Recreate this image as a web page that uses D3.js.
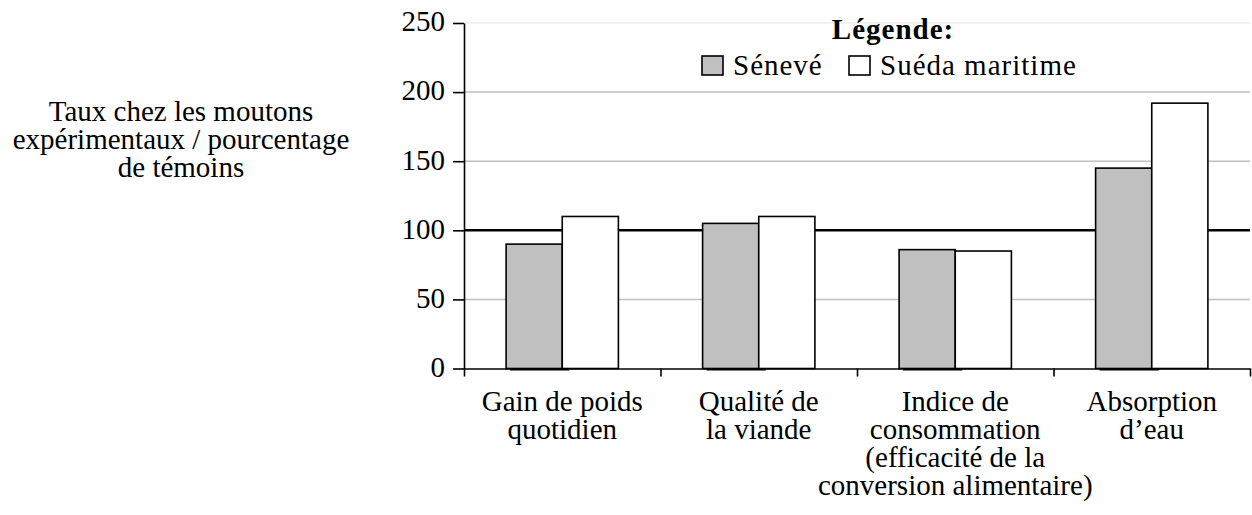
<!DOCTYPE html>
<html>
<head>
<meta charset="utf-8">
<script src="https://cdn.jsdelivr.net/npm/d3@7"></script>
<style>
  body { margin: 0; background: #fff; }
  svg { display: block; font-family: "Liberation Serif", "Times New Roman", serif; }
</style>
</head>
<body>
<script>
// categories (multi-line labels) and the two series, % of control
var categories = ["Gain de poids quotidien", "Qualité de la viande",
                  "Indice de consommation (efficacité de la conversion alimentaire)",
                  "Absorption d’eau"];
var catLines = [["Gain de poids", "quotidien"],
                ["Qualité de", "la viande"],
                ["Indice de", "consommation", "(efficacité de la", "conversion alimentaire)"],
                ["Absorption", "d’eau"]];
var series = ["Sénevé", "Suéda maritime"];
var seneve = [90, 105, 86, 145];
var sueda = [110, 110, 85, 192];
var yTicks = [0, 50, 100, 150, 200, 250];
var titleLines = ["Taux chez les moutons", "expérimentaux / pourcentage", "de témoins"];

var W = 1252, H = 515;
var plotLeft = 464, plotRight = 1250, plotTop = 23, plotBottom = 368.5;

var svg = d3.select("body").append("svg")
    .attr("width", W)
    .attr("height", H);

var y = d3.scaleLinear().domain([0, 250]).range([plotBottom, plotTop]);
var x = d3.scaleBand().domain(categories).range([plotLeft, plotRight]).paddingInner(0).paddingOuter(0);
var xSub = d3.scaleBand().domain(series).range([0, x.bandwidth()]).paddingInner(0).paddingOuter(0.75);
var fills = ["#c0c0c0", "#ffffff"];

// gridlines (drawn under the bars)
svg.append("g").selectAll("line")
    .data(yTicks.filter(function(d) { return d > 0; }))
    .enter().append("line")
    .attr("x1", plotLeft).attr("x2", plotRight)
    .attr("y1", function(d) { return y(d); })
    .attr("y2", function(d) { return y(d); })
    .style("stroke", function(d) {
        if (d == 100) return "#000";
        if (d == 250) return "#eeeeee";
        return "#c0c0c0";
    })
    .style("stroke-width", function(d) { return d == 100 ? 2.5 : 1.5; });

// bars
var rows = categories.map(function(c, i) {
    return [{cat: c, s: series[0], v: seneve[i]}, {cat: c, s: series[1], v: sueda[i]}];
});
var groups = svg.append("g").selectAll("g")
    .data(rows)
    .enter().append("g")
    .attr("transform", function(d) { return "translate(" + x(d[0].cat) + ",0)"; });

groups.selectAll("rect")
    .data(function(d) { return d; })
    .enter().append("rect")
    .attr("x", function(d) { return xSub(d.s); })
    .attr("width", xSub.bandwidth())
    .attr("y", function(d) { return y(d.v); })
    .attr("height", function(d) { return y(0) - y(d.v); })
    .style("fill", function(d, i) { return fills[i]; })
    .style("stroke", "#000")
    .style("stroke-width", 1.6);

// small dark foot under the grey bars
groups.append("line")
    .attr("x1", function(d) { return xSub(d[0].s) + 4; })
    .attr("x2", function(d) { return xSub(d[0].s) + xSub.bandwidth() + 7; })
    .attr("y1", y(0) + 1).attr("y2", y(0) + 1)
    .style("stroke", "#000")
    .style("stroke-width", 2);

// y axis
var yAxis = svg.append("g")
    .attr("transform", "translate(" + plotLeft + ",0)")
    .call(d3.axisLeft(y).tickValues(yTicks).tickSize(11).tickSizeOuter(0).tickPadding(8));
yAxis.select(".domain").style("stroke", "#000").style("stroke-width", 1.6);
yAxis.selectAll(".tick line").style("stroke", "#000").style("stroke-width", 1.6);
yAxis.selectAll(".tick text")
    .attr("dy", "0.27em")
    .style("font-family", "Liberation Serif")
    .style("font-size", "29px")
    .style("fill", "#000");

// x axis: ticks at category boundaries
var xEdge = d3.scaleLinear().domain([0, categories.length]).range([plotLeft, plotRight]);
var xAxis = svg.append("g")
    .attr("transform", "translate(0," + plotBottom + ")")
    .call(d3.axisBottom(xEdge).tickValues(d3.range(categories.length + 1))
        .tickSize(8).tickSizeOuter(0).tickFormat(""));
xAxis.select(".domain").style("stroke", "#000").style("stroke-width", 1.6);
xAxis.selectAll(".tick line").style("stroke", "#000").style("stroke-width", 1.6);

// category labels
var catText = svg.append("g").selectAll("text")
    .data(categories)
    .enter().append("text")
    .attr("x", function(d) { return x(d) + x.bandwidth() / 2; })
    .attr("y", 411)
    .attr("text-anchor", "middle")
    .style("font-size", "29px")
    .style("fill", "#000");
catText.selectAll("tspan")
    .data(function(d, i) { return catLines[i]; })
    .enter().append("tspan")
    .attr("x", function() { return d3.select(this.parentNode).attr("x"); })
    .attr("dy", function(d, i) { return i == 0 ? 0 : 28; })
    .text(function(d) { return d; });

// y title
svg.append("text")
    .attr("x", 181).attr("y", 121)
    .attr("text-anchor", "middle")
    .style("font-size", "29px")
    .style("fill", "#000")
    .selectAll("tspan")
    .data(titleLines)
    .enter().append("tspan")
    .attr("x", 181)
    .attr("dy", function(d, i) { return i == 0 ? 0 : 28; })
    .text(function(d) { return d; });

// legend
svg.append("text")
    .attr("x", 893).attr("y", 39)
    .attr("text-anchor", "middle")
    .style("font-size", "29px")
    .style("font-weight", "bold")
    .style("letter-spacing", "1px")
    .text("Légende:");

var legX = [702, 849];
var leg = svg.append("g").selectAll("g")
    .data(series)
    .enter().append("g")
    .attr("transform", function(d, i) { return "translate(" + legX[i] + ",56)"; });
leg.append("rect")
    .attr("width", 21).attr("height", 19)
    .style("fill", function(d, i) { return fills[i]; })
    .style("stroke", "#000")
    .style("stroke-width", 1.6);
leg.append("text")
    .attr("x", 31).attr("y", 19)
    .style("font-size", "29px")
    .style("letter-spacing", "1px")
    .style("fill", "#000")
    .text(function(d) { return d; });
</script>
</body>
</html>
